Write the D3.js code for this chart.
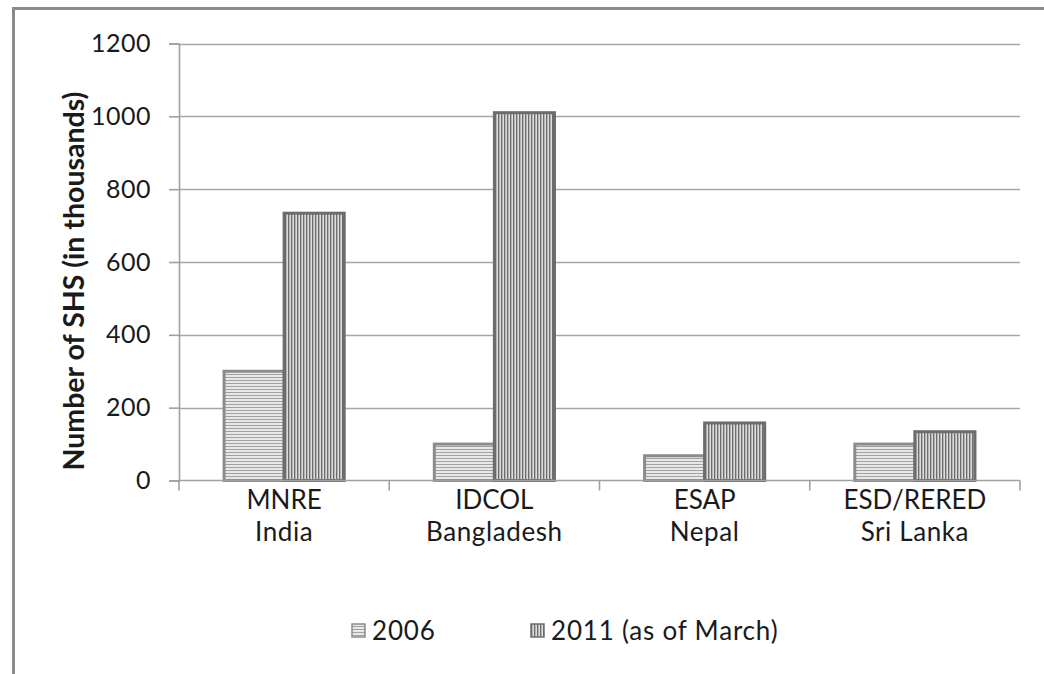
<!DOCTYPE html>
<html>
<head>
<meta charset="utf-8">
<script src="https://cdn.jsdelivr.net/npm/d3@7"></script>
<style>
  html, body { margin: 0; padding: 0; background: #fff; }
  svg { display: block; }
  text { font-family: Lato, "Open Sans", sans-serif; fill: #1a1a1a; }
</style>
</head>
<body>
<svg id="chart" width="1044" height="674"></svg>
<script>
// Solar home systems installed per programme (thousands)
const categories = [["MNRE", "India"], ["IDCOL", "Bangladesh"], ["ESAP", "Nepal"], ["ESD/RERED", "Sri Lanka"]];
const seriesNames = ["2006", "2011 (as of March)"];
const values2006 = [300, 100, 68, 100];
const values2011 = [734, 1010, 158, 134];
const yTicks = [0, 200, 400, 600, 800, 1000, 1200];
const axisTitle = "Number of SHS (in thousands)";

const svg = d3.select("#chart");
const plot = { left: 179, right: 1020, top: 43.5, bottom: 480.5 };

// hatch fills for the two series
const defs = svg.append("defs");
const ph = defs.append("pattern").attr("id", "hatch-h")
  .attr("patternUnits", "userSpaceOnUse").attr("width", 4).attr("height", 3);
ph.append("rect").attr("width", 4).attr("height", 3).attr("fill", "#e8e8e8");
ph.append("rect").attr("y", 2).attr("width", 4).attr("height", 1).attr("fill", "#a2a2a2");

const pv = defs.append("pattern").attr("id", "hatch-v")
  .attr("patternUnits", "userSpaceOnUse").attr("width", 3).attr("height", 4);
pv.append("rect").attr("width", 3).attr("height", 4).attr("fill", "#dcdcdc");
pv.append("rect").attr("x", 0).attr("width", 1).attr("height", 4).attr("fill", "#6e6e6e");
pv.append("rect").attr("x", 1).attr("width", 1).attr("height", 4).attr("fill", "#b4b4b4");

const seriesStyle = [
  { fill: "url(#hatch-h)", stroke: "#8c8c8c", values: values2006 },
  { fill: "url(#hatch-v)", stroke: "#6c6c6c", values: values2011 }
];

// outer frame
svg.append("rect").attr("x", 13.5).attr("y", 8.5)
  .attr("width", 1100).attr("height", 800)
  .attr("fill", "none").attr("stroke", "#8a8a8a").attr("stroke-width", 3);

const y = d3.scaleLinear().domain([0, 1200]).range([plot.bottom, plot.top]);
const x0 = d3.scaleBand().domain(d3.range(categories.length)).range([plot.left, plot.right]);
const x1 = d3.scaleBand().domain(d3.range(seriesNames.length))
  .range([0, x0.bandwidth()]).paddingInner(0).paddingOuter(0.75);

// gridlines
svg.append("g").selectAll("line").data(yTicks.filter(d => d > 0)).join("line")
  .attr("x1", plot.left).attr("x2", plot.right)
  .attr("y1", d => Math.round(y(d)) + 0.5).attr("y2", d => Math.round(y(d)) + 0.5)
  .attr("stroke", "#a6a6a6").attr("stroke-width", 1.6);

// y axis
const yAxis = svg.append("g").attr("transform", `translate(${plot.left},0)`)
  .call(d3.axisLeft(y).tickValues(yTicks).tickFormat(d3.format("d")).tickSize(10).tickPadding(18));
yAxis.select(".domain").attr("stroke", "#a0a0a0").attr("stroke-width", 1.6);
yAxis.selectAll(".tick line").attr("stroke", "#a0a0a0").attr("stroke-width", 1.6);
yAxis.selectAll(".tick text").style("font-size", "25px").style("font-family", "Lato, sans-serif")
  .style("letter-spacing", "0.5px").attr("fill", "#222");

// bars
categories.forEach((c, i) => {
  seriesStyle.forEach((s, j) => {
    svg.append("rect")
      .attr("x", x0(i) + x1(j))
      .attr("y", y(s.values[i]))
      .attr("width", x1.bandwidth())
      .attr("height", y(0) - y(s.values[i]))
      .attr("fill", s.fill)
      .attr("stroke", s.stroke)
      .attr("stroke-width", 3);
  });
});

// x axis line and category boundary ticks
svg.append("line").attr("x1", plot.left).attr("x2", plot.right)
  .attr("y1", plot.bottom).attr("y2", plot.bottom)
  .attr("stroke", "#a0a0a0").attr("stroke-width", 1.6);
const bounds = d3.range(categories.length + 1).map(i => i < categories.length ? x0(i) : plot.right);
svg.append("g").selectAll("line").data(bounds).join("line")
  .attr("x1", d => d).attr("x2", d => d)
  .attr("y1", plot.bottom).attr("y2", plot.bottom + 10)
  .attr("stroke", "#a0a0a0").attr("stroke-width", 1.6);

// category labels
const catG = svg.append("g");
categories.forEach((c, i) => {
  const cx = x0(i) + x0.bandwidth() / 2;
  const t = catG.append("text")
    .attr("x", cx)
    .attr("text-anchor", "middle")
    .style("font-size", "26px");
  t.append("tspan").attr("x", cx).attr("y", 509).text(c[0]);
  t.append("tspan").attr("x", cx).attr("y", 541).style("letter-spacing", "0.6px").text(c[1]);
});

// axis title
svg.append("text")
  .attr("transform", "translate(74,281) rotate(-90)")
  .attr("text-anchor", "middle")
  .attr("dy", "0.35em")
  .style("font-size", "28.5px").style("font-weight", "bold")
  .text(axisTitle);

// legend
const legendItems = [
  { name: seriesNames[0], style: seriesStyle[0], x: 352 },
  { name: seriesNames[1], style: seriesStyle[1], x: 531 }
];
const lg = svg.append("g");
legendItems.forEach(it => {
  lg.append("rect").attr("x", it.x).attr("y", 624).attr("width", 13).attr("height", 13)
    .attr("fill", it.style.fill).attr("stroke", it.style.stroke).attr("stroke-width", 1.5);
  lg.append("text").attr("x", it.x + 20).attr("y", 640)
    .style("font-size", "26px").style("letter-spacing", "0.8px").text(it.name);
});
</script>
</body>
</html>
